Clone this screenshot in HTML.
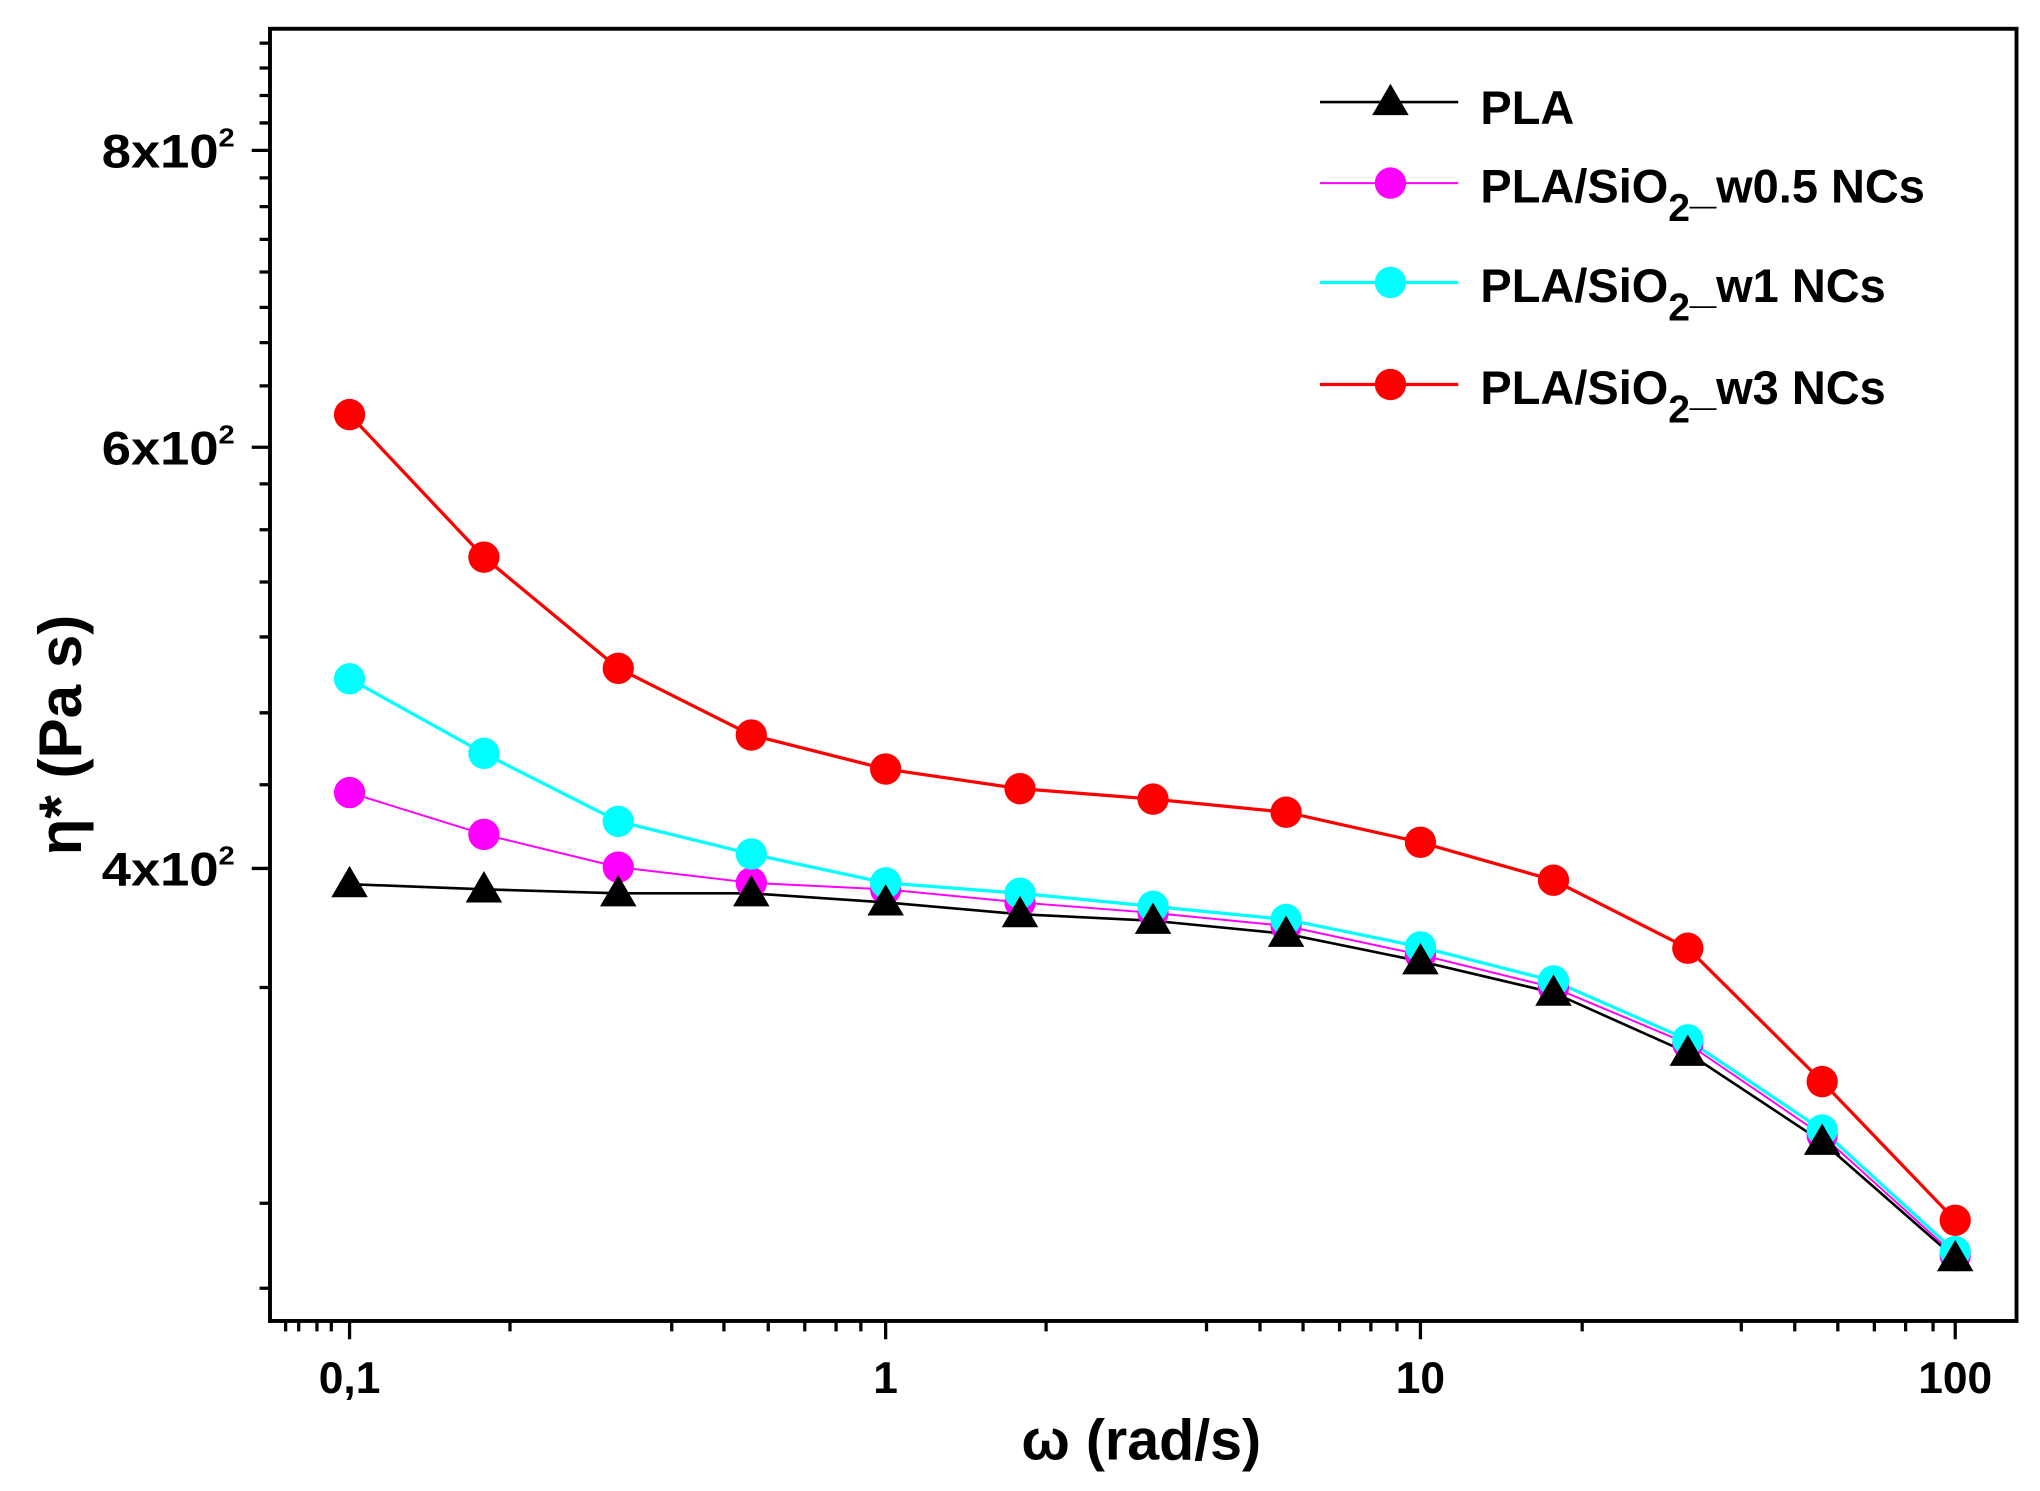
<!DOCTYPE html>
<html><head><meta charset="utf-8"><style>html,body{margin:0;padding:0;background:#fff}svg{display:block}</style></head>
<body>
<svg width="2040" height="1491" viewBox="0 0 1564 1140" preserveAspectRatio="none" xmlns="http://www.w3.org/2000/svg">
<rect width="1564" height="1140" fill="#fff"/>
<rect x="207" y="22" width="1339" height="988" fill="none" stroke="#000" stroke-width="3"/>
<g stroke="#000" stroke-width="2.5">
<line x1="193" y1="115" x2="207" y2="115"/><line x1="193" y1="342" x2="207" y2="342"/><line x1="193" y1="664" x2="207" y2="664"/>
<path d="M199 33H207M199 52H207M199 73H207M199 94H207M199 136H207M199 158H207M199 183H207M199 208H207M199 235H207M199 262H207M199 295H207M199 370H207M199 405H207M199 445H207M199 487H207M199 545H207M199 600H207M199 755H207M199 920H207M199 985H207"/>
<path d="M268 1010V1024M679 1010V1024M1089 1010V1024M1499 1010V1024"/>
<path d="M219 1010V1018M243 1010V1018M391 1010V1018M515 1010V1018M555 1010V1018M589 1010V1018M617 1010V1018M641 1010V1018M660 1010V1018M802 1010V1018M925 1010V1018M966 1010V1018M999 1010V1018M1027 1010V1018M1051 1010V1018M1071 1010V1018M1213 1010V1018M1335 1010V1018M1376 1010V1018M1409 1010V1018M1437 1010V1018M1461 1010V1018M1482 1010V1018M229 1010V1018M254 1010V1018"/>
</g>
<g font-family="'Liberation Sans',sans-serif" font-weight="bold" font-size="34" fill="#000">
<text x="180" y="128" text-anchor="end" font-size="36" textLength="102" lengthAdjust="spacingAndGlyphs">8x10<tspan font-size="20" dy="-16">2</tspan></text>
<text x="180" y="355" text-anchor="end" font-size="36" textLength="102" lengthAdjust="spacingAndGlyphs">6x10<tspan font-size="20" dy="-16">2</tspan></text>
<text x="180" y="677" text-anchor="end" font-size="36" textLength="102" lengthAdjust="spacingAndGlyphs">4x10<tspan font-size="20" dy="-16">2</tspan></text>
<text x="268" y="1065" text-anchor="middle">0,1</text>
<text x="679" y="1065" text-anchor="middle">1</text>
<text x="1089" y="1065" text-anchor="middle">10</text>
<text x="1499" y="1065" text-anchor="middle">100</text>
<text x="875" y="1116" text-anchor="middle" font-size="44">ω (rad/s)</text>
<text x="1135" y="95" font-size="36">PLA</text>
<text x="1135" y="155" font-size="36">PLA/SiO<tspan dy="14" font-size="30">2</tspan><tspan dy="-14">_w0.5 NCs</tspan></text>
<text x="1135" y="231" font-size="36">PLA/SiO<tspan dy="14" font-size="30">2</tspan><tspan dy="-14">_w1 NCs</tspan></text>
<text x="1135" y="309" font-size="36">PLA/SiO<tspan dy="14" font-size="30">2</tspan><tspan dy="-14">_w3 NCs</tspan></text>
</g>
<text transform="translate(62,562) rotate(-90)" text-anchor="middle" font-family="'Liberation Sans',sans-serif" font-weight="bold" font-size="46">η* (Pa s)</text>
<g fill="none">
<polyline stroke="#000" stroke-width="2" points="268,676 371,680 474,683 576,683 679,690 782,699 884,704 986,714 1089,735 1191,759 1294,805 1397,873 1499,962"/>
<polyline stroke="#f0f" stroke-width="1.5" points="268,606 371,638 474,663 576,675 679,680 782,690 884,698 986,708 1089,730 1191,755 1294,798 1397,868 1499,960"/>
<polyline stroke="#0ff" stroke-width="2.5" points="268,519 371,576 474,628 576,653 679,675 782,683 884,693 986,703 1089,724 1191,750 1294,795 1397,864 1499,957"/>
<polyline stroke="#f00" stroke-width="2.5" points="268,317 371,426 474,511 576,562 679,588 782,603 884,611 986,621 1089,644 1191,673 1294,725 1397,827 1499,933"/>
<line x1="1012" y1="78" x2="1118" y2="78" stroke="#000" stroke-width="2"/>
<line x1="1012" y1="140" x2="1118" y2="140" stroke="#f0f" stroke-width="1.5"/>
<line x1="1012" y1="216" x2="1118" y2="216" stroke="#0ff" stroke-width="2.5"/>
<line x1="1012" y1="294" x2="1118" y2="294" stroke="#f00" stroke-width="2.5"/>
</g>
<g fill="#f0f"><circle cx="268" cy="606" r="12"/><circle cx="371" cy="638" r="12"/><circle cx="474" cy="663" r="12"/><circle cx="576" cy="675" r="12"/><circle cx="679" cy="680" r="12"/><circle cx="782" cy="690" r="12"/><circle cx="884" cy="698" r="12"/><circle cx="986" cy="708" r="12"/><circle cx="1089" cy="730" r="12"/><circle cx="1191" cy="755" r="12"/><circle cx="1294" cy="798" r="12"/><circle cx="1397" cy="868" r="12"/><circle cx="1499" cy="960" r="12"/><circle cx="1066" cy="140" r="12"/></g>
<g fill="#0ff"><circle cx="268" cy="519" r="12"/><circle cx="371" cy="576" r="12"/><circle cx="474" cy="628" r="12"/><circle cx="576" cy="653" r="12"/><circle cx="679" cy="675" r="12"/><circle cx="782" cy="683" r="12"/><circle cx="884" cy="693" r="12"/><circle cx="986" cy="703" r="12"/><circle cx="1089" cy="724" r="12"/><circle cx="1191" cy="750" r="12"/><circle cx="1294" cy="795" r="12"/><circle cx="1397" cy="864" r="12"/><circle cx="1499" cy="957" r="12"/><circle cx="1066" cy="216" r="12"/></g>
<g fill="#f00"><circle cx="268" cy="317" r="12"/><circle cx="371" cy="426" r="12"/><circle cx="474" cy="511" r="12"/><circle cx="576" cy="562" r="12"/><circle cx="679" cy="588" r="12"/><circle cx="782" cy="603" r="12"/><circle cx="884" cy="611" r="12"/><circle cx="986" cy="621" r="12"/><circle cx="1089" cy="644" r="12"/><circle cx="1191" cy="673" r="12"/><circle cx="1294" cy="725" r="12"/><circle cx="1397" cy="827" r="12"/><circle cx="1499" cy="933" r="12"/><circle cx="1066" cy="294" r="12"/></g>
<g fill="#000">
<path d="M268 662l14 24h-28z M371 666l14 24h-28z M474 669l14 24h-28z M576 669l14 24h-28z M679 676l14 24h-28z M782 685l14 24h-28z M884 690l14 24h-28z M986 700l14 24h-28z M1089 721l14 24h-28z M1191 745l14 24h-28z M1294 791l14 24h-28z M1397 859l14 24h-28z M1499 948l14 24h-28z M1066 64l14 24h-28z"/>
</g>
</svg>
</body></html>
